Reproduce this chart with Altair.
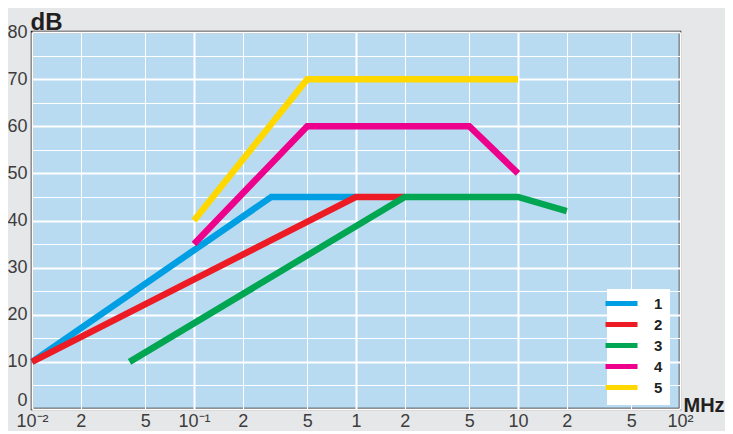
import altair as alt
import pandas as pd

# ---- data ----
series_names = ["1", "2", "3", "4", "5"]
s1_x = [0.01, 0.3, 1.0]
s1_y = [10, 45, 45]
s2_x = [0.01, 1.0, 2.0]
s2_y = [10, 45, 45]
s3_x = [0.04, 2.0, 10.0, 20.0]
s3_y = [10, 45, 45, 42]
s4_x = [0.1, 0.5, 5.0, 10.0]
s4_y = [35, 60, 60, 50]
s5_x = [0.1, 0.5, 10.0]
s5_y = [40, 70, 70]
colors = ["#009fe3", "#ed1c24", "#00a651", "#ec008c", "#ffd800"]

x_tick_values = [0.01, 0.02, 0.05, 0.1, 0.2, 0.5, 1, 2, 5, 10, 20, 50, 100]
x_tick_labels = ["10\u207b\u00b2", "2", "5", "10\u207b\u00b9", "2", "5", "1", "2", "5", "10", "2", "5", "10\u00b2"]
y_tick_values = [0, 5, 10, 15, 20, 25, 30, 35, 40, 45, 50, 55, 60, 65, 70, 75, 80]

rows = []
for name, xs, ys in zip(series_names, [s1_x, s2_x, s3_x, s4_x, s5_x], [s1_y, s2_y, s3_y, s4_y, s5_y]):
    for i, (xv, yv) in enumerate(zip(xs, ys)):
        rows.append({"series": name, "f": xv, "dB": yv, "order": i})
df = pd.DataFrame(rows)

label_expr = " : ".join(
    f"abs(datum.value - {v}) < {v * 0.001} ? '{l}'" for v, l in zip(x_tick_values, x_tick_labels)
) + " : ''"

FONT = "Liberation Sans Narrow, Liberation Sans, Arial, sans-serif"
decade_test = "abs(log(datum.value)/LN10 - round(log(datum.value)/LN10)) < 0.01"

chart = alt.Chart(df).mark_line(strokeWidth=6.5, strokeCap="butt", strokeJoin="miter").encode(
    x=alt.X("f:Q", scale=alt.Scale(type="log", domain=[0.01, 100], nice=False),
            axis=alt.Axis(values=x_tick_values, labelExpr=label_expr, ticks=False, domain=False,
                          gridColor="white",
                          gridWidth={"condition": {"test": decade_test, "value": 2}, "value": 1},
                          gridOpacity=1,
                          labelFont=FONT, labelFontSize=18, labelColor="#3c3c3c", labelPadding=3,
                          labelOverlap=False, labelFlush=False,
                          title="MHz", titleFont=FONT, titleFontSize=20, titleFontWeight="bold",
                          titleColor="#231f20", titleAnchor="start", titleAlign="left",
                          titleX=651, titleY=6, titleBaseline="bottom")),
    y=alt.Y("dB:Q", scale=alt.Scale(domain=[0, 80], nice=False),
            axis=alt.Axis(values=y_tick_values,
                          labelExpr="datum.value % 10 == 0 ? datum.label : ''",
                          labelBaseline={"condition": {"test": "datum.value == 0", "value": "alphabetic"},
                                         "value": "middle"},
                          labelOffset={"condition": {"test": "datum.value == 0", "value": -4}, "value": 0},
                          ticks=False, domain=False, gridColor="white",
                          gridWidth={"condition": {"test": "datum.value % 10 == 0", "value": 2}, "value": 1},
                          gridOpacity=1,
                          labelFont=FONT, labelFontSize=18, labelColor="#3c3c3c", labelPadding=5,
                          title="dB", titleFont=FONT, titleFontSize=24, titleFontWeight="bold",
                          titleColor="#231f20", titleAngle=0, titleAlign="left", titleX=-2,
                          titleY=-3, titleBaseline="alphabetic")),
    color=alt.Color("series:N", scale=alt.Scale(domain=series_names, range=colors),
                    legend=alt.Legend(title=None, orient="none", legendX=575, legendY=257,
                                      fillColor="white", padding=7,
                                      symbolType="M-3.2,0H3.2", symbolSize=100,
                                      symbolStrokeWidth=5, rowPadding=0,
                                      labelFont=FONT, labelFontSize=15, labelFontWeight="bold",
                                      labelColor="#231f20", labelOffset=25)),
    order="order:Q",
).properties(
    width=648, height=377,
    autosize=alt.AutoSizeParams(type="none"),
    padding={"left": 24, "top": 24, "right": 45, "bottom": 22},
    background="#e6e7e9",
).configure_view(
    fill="#b9dbf2", stroke="#231f20", strokeWidth=2.5
)

chart.save("out.html", embed_options={"renderer": "svg", "actions": False})
